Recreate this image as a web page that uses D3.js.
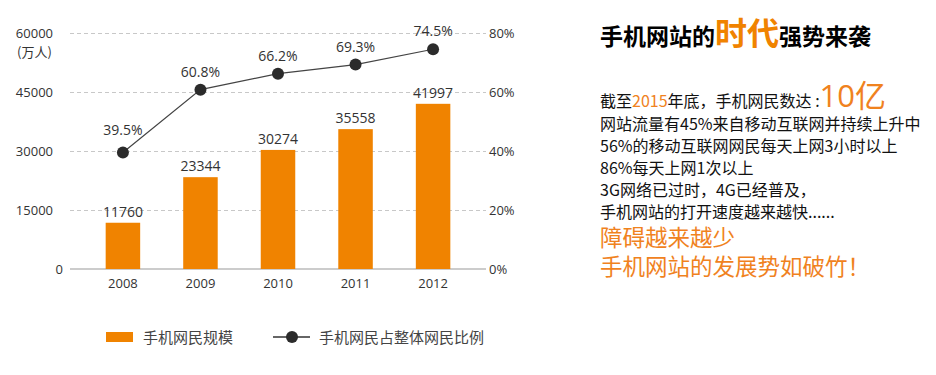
<!DOCTYPE html>
<html><head><meta charset="utf-8">
<script src="https://cdn.jsdelivr.net/npm/d3@7"></script>
<style>
body{margin:0;background:#fff;}
svg{display:block;}
text{font-family:"Open Sans","Noto Sans CJK SC",sans-serif;}
.cjk{font-family:"Noto Sans CJK SC","Noto Sans",sans-serif;}
</style></head>
<body>
<svg id="chart" width="936" height="375"></svg>
<script>
const years = ["2008", "2009", "2010", "2011", "2012"];
const users = [11760, 23344, 30274, 35558, 41997];
const ratios = [39.5, 60.8, 66.2, 69.3, 74.5];
const leftTicks = [0, 15000, 30000, 45000, 60000];
const rightTicks = [0, 20, 40, 60, 80];
const unitLabel = "(万人)";
const legendLabels = ["手机网民规模", "手机网民占整体网民比例"];
const titleParts = ["手机网站的", "时代", "强势来袭"];
const firstLine = ["截至", "2015", "年底，手机网民数达 :", "10亿"];
const bodyLines = [
  "网站流量有45%来自移动互联网并持续上升中",
  "56%的移动互联网网民每天上网3小时以上",
  "86%每天上网1次以上",
  "3G网络已过时，4G已经普及，",
  "手机网站的打开速度越来越快......"
];
const highlightLines = ["障碍越来越少", "手机网站的发展势如破竹！"];

const orange = "#F08300";
const svg = d3.select("#chart");
const x0 = 70, x1 = 486, yTop = 33, yBot = 269;

const x = d3.scaleBand().domain(years).range([x0, x1]).paddingInner(0.555).paddingOuter(0.46);
const yL = d3.scaleLinear().domain([0, 60000]).range([yBot, yTop]);
const yR = d3.scaleLinear().domain([0, 80]).range([yBot, yTop]);

// gridlines
const grid = svg.append("g").attr("transform", `translate(${x0},0)`)
  .call(d3.axisLeft(yL).tickValues(leftTicks.filter(d => d > 0)).tickSize(-(x1 - x0)).tickFormat(""));
grid.select(".domain").remove();
grid.selectAll("line").attr("stroke", "#c8c8c8").attr("stroke-dasharray", "4,3");

// baseline
svg.append("line").attr("x1", x0).attr("x2", x1).attr("y1", yL(0)).attr("y2", yL(0))
  .attr("stroke", "#999").attr("stroke-width", 1.2);

// left axis
const gl = svg.append("g").attr("transform", `translate(${x0},0)`)
  .call(d3.axisLeft(yL).tickValues(leftTicks).tickSize(0).tickPadding(17).tickFormat(d3.format("d")));
gl.select(".domain").remove();
gl.selectAll("text").attr("font-size", 13).attr("fill", "#333");
gl.selectAll("text").filter(d => d === 0).attr("x", -7);
svg.append("text").attr("class", "cjk").attr("x", 17).attr("y", yL(60000) + 24)
  .attr("font-size", 13).attr("fill", "#333").text(unitLabel);

// right axis
const gr = svg.append("g").attr("transform", `translate(${x1},0)`)
  .call(d3.axisRight(yR).tickValues(rightTicks).tickSize(0).tickPadding(3).tickFormat(d => d + "%"));
gr.select(".domain").remove();
gr.selectAll("text").attr("font-size", 13).attr("fill", "#333");

// bottom axis
const gb = svg.append("g").attr("transform", `translate(0,${yBot})`)
  .call(d3.axisBottom(x).tickSize(0).tickPadding(10));
gb.select(".domain").remove();
gb.selectAll("text").attr("font-size", 13).attr("fill", "#333");

// bars
svg.append("g").selectAll("rect").data(years).join("rect")
  .attr("x", d => x(d)).attr("width", x.bandwidth())
  .attr("y", (d, i) => yL(users[i])).attr("height", (d, i) => yL(0) - yL(users[i]))
  .attr("fill", orange);
svg.append("g").selectAll("text").data(years).join("text")
  .attr("x", d => x(d) + x.bandwidth() / 2).attr("y", (d, i) => yL(users[i]) - 6)
  .attr("text-anchor", "middle").attr("font-size", 14).attr("fill", "#333")
  .text((d, i) => users[i]);

// line
const cx = d => x(d) + x.bandwidth() / 2;
svg.append("path").datum(years)
  .attr("d", d3.line().x(d => cx(d)).y((d, i) => yR(ratios[i])))
  .attr("fill", "none").attr("stroke", "#444").attr("stroke-width", 1.2);
svg.append("g").selectAll("circle").data(years).join("circle")
  .attr("cx", d => cx(d)).attr("cy", (d, i) => yR(ratios[i])).attr("r", 6)
  .attr("fill", "#2b2b2b");
svg.append("g").selectAll("text").data(years).join("text")
  .attr("x", d => cx(d)).attr("y", (d, i) => yR(ratios[i]) - (i === 0 ? 17 : 13))
  .attr("text-anchor", "middle").attr("font-size", 14).attr("fill", "#333")
  .text((d, i) => ratios[i].toFixed(1) + "%");

// legend
const lg = svg.append("g");
lg.append("rect").attr("x", 106).attr("y", 332).attr("width", 27).attr("height", 10).attr("fill", orange);
lg.append("text").attr("class", "cjk").attr("x", 143).attr("y", 343).attr("font-size", 15).attr("fill", "#444").text(legendLabels[0]);
lg.append("line").attr("x1", 273).attr("x2", 310).attr("y1", 337).attr("y2", 337).attr("stroke", "#333").attr("stroke-width", 1.5);
lg.append("circle").attr("cx", 292).attr("cy", 337).attr("r", 6).attr("fill", "#2b2b2b");
lg.append("text").attr("class", "cjk").attr("x", 319).attr("y", 343).attr("font-size", 15).attr("fill", "#444").text(legendLabels[1]);

// right text block
const tx = 600;
const title = svg.append("text").attr("class", "cjk").attr("x", tx).attr("y", 45).attr("font-weight", "bold").attr("fill", "#000");
title.append("tspan").attr("font-size", 23).text(titleParts[0]);
title.append("tspan").attr("font-size", 32).attr("fill", orange).text(titleParts[1]);
title.append("tspan").attr("font-size", 23).text(titleParts[2]);

const l1 = svg.append("text").attr("class", "cjk").attr("x", tx).attr("y", 107).attr("fill", "#111");
l1.append("tspan").attr("font-size", 16).text(firstLine[0]);
l1.append("tspan").attr("font-size", 16).attr("fill", "#F0821E").text(firstLine[1]);
l1.append("tspan").attr("font-size", 16).text(firstLine[2]);
l1.append("tspan").attr("font-size", 31).attr("fill", "#F0821E").attr("font-family", "'Open Sans','Noto Sans CJK SC',sans-serif").text(firstLine[3]);

svg.append("g").selectAll("text").data(bodyLines).join("text").attr("class", "cjk")
  .attr("x", tx).attr("y", (d, i) => 130 + i * 22).attr("font-size", 16).attr("fill", "#111").text(d => d);
svg.append("g").selectAll("text").data(highlightLines).join("text").attr("class", "cjk")
  .attr("x", tx).attr("y", (d, i) => 246 + i * 29).attr("font-size", 22.5).attr("fill", "#F0821E").text(d => d);
</script>
</body></html>
